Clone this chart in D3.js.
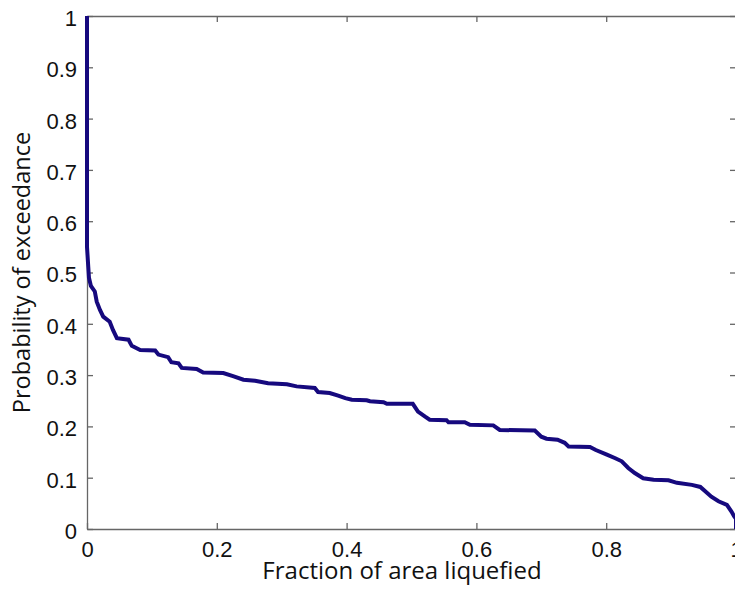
<html><head>
<meta charset="UTF-8">
<title>Probability of exceedance</title>
<script src="https://d3js.org/d3.v7.min.js"></script>
<style>
    body { margin: 0; background: #fff; }
    svg { display: block; font-family: "Open Sans", "Noto Sans", sans-serif; }
    .tick text { font-size: 22px; fill: #111; }
    .axis-title { fill: #111; }
</style>
</head>
<body>
<div id="chart"></div>
<script>
    // traced points of the exceedance curve
    const fraction = [0, 0, 0.002, 0.003, 0.006, 0.012, 0.015, 0.02, 0.025, 0.035, 0.04, 0.046,
        0.064, 0.069, 0.082, 0.105, 0.11, 0.125, 0.13, 0.141, 0.146, 0.169, 0.179, 0.21,
        0.225, 0.241, 0.259, 0.279, 0.308, 0.323, 0.351, 0.356, 0.374, 0.387, 0.398, 0.408,
        0.431, 0.436, 0.457, 0.462, 0.502, 0.510, 0.521, 0.528, 0.554, 0.557, 0.582, 0.590,
        0.626, 0.636, 0.690, 0.700, 0.708, 0.725, 0.736, 0.742, 0.775, 0.784, 0.801, 0.814,
        0.824, 0.834, 0.844, 0.857, 0.873, 0.896, 0.909, 0.932, 0.945, 0.953, 0.962, 0.973,
        0.986, 0.993, 0.997, 1, 1];
    const exceedance = [1, 0.55, 0.51, 0.49, 0.474, 0.463, 0.443, 0.427, 0.414, 0.404, 0.388, 0.372,
        0.369, 0.357, 0.349, 0.348, 0.340, 0.335, 0.325, 0.323, 0.314, 0.312, 0.305, 0.304,
        0.298, 0.291, 0.289, 0.284, 0.282, 0.278, 0.275, 0.267, 0.265, 0.260, 0.255, 0.252,
        0.251, 0.249, 0.247, 0.244, 0.244, 0.229, 0.219, 0.213, 0.212, 0.208, 0.208, 0.203,
        0.202, 0.193, 0.192, 0.180, 0.176, 0.174, 0.168, 0.161, 0.160, 0.154, 0.145, 0.138,
        0.132, 0.119, 0.109, 0.099, 0.096, 0.095, 0.090, 0.086, 0.082, 0.073, 0.063, 0.054,
        0.047, 0.034, 0.025, 0.02, 0];
    const xTicks = [0, 0.2, 0.4, 0.6, 0.8, 1];
    const yTicks = [0, 0.1, 0.2, 0.3, 0.4, 0.5, 0.6, 0.7, 0.8, 0.9, 1];

    const W = 735, H = 596;
    const margin = { top: 16, right: -1, bottom: 67, left: 87 };
    const width = W - margin.left - margin.right;
    const height = H - margin.top - margin.bottom;

    const svg = d3.select("#chart").append("svg")
        .attr("width", W)
        .attr("height", H);
    const g = svg.append("g")
        .attr("transform", `translate(${margin.left},${margin.top})`);

    const x = d3.scaleLinear().domain([0, 1]).range([0, width]);
    const y = d3.scaleLinear().domain([0, 1]).range([height, 0]);

    const fmt = d => d === 0 || d === 1 ? String(d) : d3.format(".1f")(d);

    // box + inward ticks (matlab style)
    const xAxis = g.append("g").attr("transform", `translate(0,${height})`)
        .call(d3.axisBottom(x).tickValues(xTicks).tickSizeInner(-6).tickSizeOuter(0).tickPadding(12).tickFormat(fmt));
    const yAxis = g.append("g")
        .call(d3.axisLeft(y).tickValues(yTicks).tickSizeInner(-6).tickSizeOuter(0).tickPadding(10).tickFormat(fmt));
    g.append("g").call(d3.axisTop(x).tickValues(xTicks).tickSizeInner(-6).tickSizeOuter(0).tickFormat(""));
    g.append("g").attr("transform", `translate(${width},0)`)
        .call(d3.axisRight(y).tickValues(yTicks).tickSizeInner(-6).tickSizeOuter(0).tickFormat(""));
    g.selectAll(".domain, .tick line").attr("stroke", "#666").attr("stroke-width", 1.3);
    xAxis.selectAll(".tick text").attr("dy", "0.71em");
    yAxis.selectAll(".tick text").attr("dy", "0.43em");

    const pts = fraction.map((f, i) => [f, exceedance[i]]);
    g.append("path")
        .datum(pts)
        .attr("fill", "none")
        .attr("stroke", "#16097e")
        .attr("stroke-width", 4)
        .attr("stroke-linejoin", "miter")
        .attr("d", d3.line().x(d => x(d[0])).y(d => y(d[1])));

    svg.append("text").attr("class", "axis-title")
        .attr("x", 402).attr("y", 579)
        .attr("font-size", 24)
        .attr("text-anchor", "middle")
        .text("Fraction of area liquefied");
    svg.append("text").attr("class", "axis-title")
        .attr("transform", `translate(30,${margin.top + height / 2}) rotate(-90)`)
        .attr("font-size", 23.5)
        .attr("text-anchor", "middle")
        .text("Probability of exceedance");
</script>
</body></html>
